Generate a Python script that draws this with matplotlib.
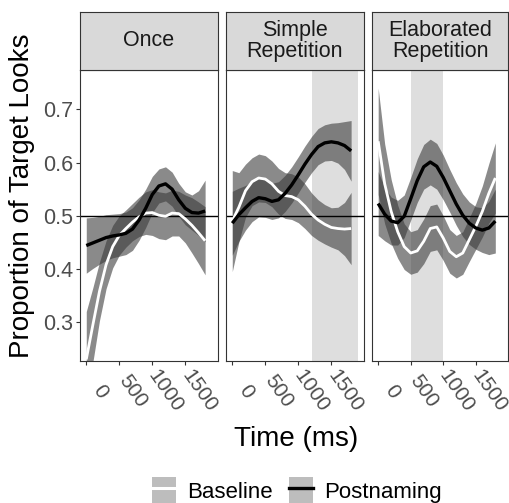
import matplotlib
matplotlib.use("Agg")
import matplotlib.pyplot as plt
import numpy as np
from matplotlib.patches import Patch
from matplotlib.lines import Line2D
from matplotlib.legend_handler import HandlerTuple
from matplotlib.transforms import ScaledTranslation

plt.rcParams['font.family'] = ['Liberation Sans', 'DejaVu Sans']

# ---- data ----
conditions = ["Once", "Simple\nRepetition", "Elaborated\nRepetition"]
times = [0, 100, 200, 300, 400, 500, 600, 700, 800, 900,
         1000, 1100, 1200, 1300, 1400, 1500, 1600, 1700, 1800]

# Once
once_base = [0.230, 0.295, 0.358, 0.408, 0.442, 0.463, 0.476, 0.488, 0.498, 0.505,
             0.506, 0.501, 0.499, 0.505, 0.504, 0.494, 0.482, 0.468, 0.453]
once_base_ci = [0.090, 0.070, 0.055, 0.045, 0.040, 0.037, 0.035, 0.035, 0.037, 0.040,
                0.043, 0.044, 0.044, 0.043, 0.042, 0.045, 0.052, 0.058, 0.064]
once_post = [0.444, 0.449, 0.454, 0.459, 0.462, 0.464, 0.467, 0.475, 0.492, 0.514,
             0.540, 0.556, 0.560, 0.550, 0.530, 0.514, 0.506, 0.505, 0.509]
once_post_ci = [0.052, 0.048, 0.045, 0.043, 0.041, 0.040, 0.040, 0.040, 0.038, 0.036,
                0.034, 0.032, 0.032, 0.032, 0.031, 0.031, 0.033, 0.042, 0.058]

# Simple Repetition
simple_base = [0.490, 0.516, 0.547, 0.564, 0.571, 0.569, 0.560, 0.546, 0.538, 0.536,
               0.530, 0.518, 0.503, 0.492, 0.484, 0.478, 0.476, 0.475, 0.476]
simple_base_ci = [0.095, 0.065, 0.050, 0.045, 0.045, 0.044, 0.043, 0.043, 0.043, 0.043,
                  0.043, 0.042, 0.040, 0.038, 0.037, 0.037, 0.040, 0.050, 0.068]
simple_post = [0.486, 0.502, 0.515, 0.527, 0.534, 0.532, 0.527, 0.530, 0.542, 0.558,
               0.577, 0.597, 0.615, 0.630, 0.637, 0.639, 0.637, 0.632, 0.622]
simple_post_ci = [0.060, 0.050, 0.042, 0.038, 0.036, 0.035, 0.034, 0.034, 0.034, 0.034,
                  0.034, 0.034, 0.034, 0.034, 0.034, 0.035, 0.038, 0.045, 0.057]

# Elaborated Repetition
elab_base = [0.640, 0.560, 0.508, 0.470, 0.442, 0.430, 0.434, 0.452, 0.476, 0.479,
             0.458, 0.433, 0.423, 0.430, 0.455, 0.480, 0.508, 0.542, 0.571]
elab_base_ci = [0.100, 0.075, 0.060, 0.050, 0.043, 0.040, 0.040, 0.042, 0.043, 0.043,
                0.042, 0.041, 0.040, 0.040, 0.041, 0.043, 0.048, 0.056, 0.066]
elab_post = [0.523, 0.503, 0.490, 0.487, 0.499, 0.532, 0.566, 0.592, 0.601, 0.593,
             0.572, 0.547, 0.522, 0.501, 0.486, 0.477, 0.473, 0.477, 0.490]
elab_post_ci = [0.060, 0.050, 0.045, 0.042, 0.040, 0.040, 0.041, 0.042, 0.043, 0.043,
                0.042, 0.040, 0.040, 0.040, 0.040, 0.040, 0.042, 0.050, 0.060]

# shaded windows (ms)
windows = [None, (1200, 1900), (500, 1000)]

x_ticks = [0, 500, 1000, 1500]
x_ticklabels = ["0", "500", "1000", "1500"]
y_ticks = [0.3, 0.4, 0.5, 0.6, 0.7]
y_ticklabels = ["0.3", "0.4", "0.5", "0.6", "0.7"]

series = [
    (once_base, once_base_ci, once_post, once_post_ci),
    (simple_base, simple_base_ci, simple_post, simple_post_ci),
    (elab_base, elab_base_ci, elab_post, elab_post_ci),
]

# ---- figure ----
W, H = 509, 503
fig = plt.figure(figsize=(W / 100, H / 100), dpi=100)

def fx(px):
    return px / W

def fy(py):
    return (H - py) / H

panel_lefts = [80, 226, 372]
panel_w = [138, 138, 136]
p_top, p_bot = 70, 361
s_top = 12

ribbon_col = '#393939'
ribbon_alpha = 0.59
border_col = '#333333'

t = np.array(times)
for i, cond in enumerate(conditions):
    L = panel_lefts[i]
    ax = fig.add_axes([fx(L), fy(p_bot), fx(panel_w[i]), (p_bot - p_top) / H])
    b, bci, p, pci = [np.array(a) for a in series[i]]
    if windows[i] is not None:
        ax.axvspan(windows[i][0], windows[i][1], color='#dedede', lw=0, zorder=0)
    ax.fill_between(t, b - bci, b + bci, color=ribbon_col, alpha=ribbon_alpha, lw=0, zorder=1)
    ax.fill_between(t, p - pci, p + pci, color=ribbon_col, alpha=ribbon_alpha, lw=0, zorder=1)
    ax.axhline(0.5, color='black', lw=1.0, zorder=2)
    ax.plot(t, b, color='white', lw=2.0, zorder=3, solid_capstyle='butt')
    ax.plot(t, p, color='black', lw=2.4, zorder=4, solid_capstyle='butt')
    ax.set_xlim(-95, 1995)
    ax.set_ylim(0.227, 0.774)
    for sp in ax.spines.values():
        sp.set_color(border_col)
        sp.set_linewidth(0.8)
    ax.set_xticks(x_ticks)
    ax.set_xticklabels(x_ticklabels, rotation=-55, rotation_mode='anchor',
                       ha='center', va='center', fontsize=15, color='#4d4d4d')
    ax.tick_params(axis='x', length=3, width=0.8, color='#333333', pad=0)
    if i == 0:
        ax.set_yticks(y_ticks)
        ax.set_yticklabels(y_ticklabels, fontsize=15.5, color='#4d4d4d')
        ax.tick_params(axis='y', length=3, width=0.8, color='#333333', pad=2)
    else:
        ax.set_yticks([])
    off = ScaledTranslation(13.5 / 100, -26 / 100, fig.dpi_scale_trans)
    for lab in ax.get_xticklabels():
        lab.set_transform(lab.get_transform() + off)

    # strip
    sax = fig.add_axes([fx(L), fy(p_top), fx(panel_w[i]), (p_top - s_top) / H])
    sax.set_facecolor('#d9d9d9')
    sax.set_xticks([])
    sax.set_yticks([])
    for sp in sax.spines.values():
        sp.set_color(border_col)
        sp.set_linewidth(0.8)
    sax.text(0.5, 0.5, cond, ha='center', va='center', fontsize=15.5,
             linespacing=0.95, transform=sax.transAxes, color='#1a1a1a')

fig.text(fx(22), fy(196), "Proportion of Target Looks", rotation=90,
         ha='center', va='center', fontsize=20)
fig.text(fx(296), fy(439), "Time (ms)", ha='center', va='center', fontsize=20)

key_col = '#bdbdbd'
handles = [(Patch(facecolor=key_col, edgecolor='none'), Line2D([], [], color='white', lw=2.2)),
           (Patch(facecolor=key_col, edgecolor='none'), Line2D([], [], color='black', lw=2.4))]
fig.legend(handles=handles, labels=["Baseline", "Postnaming"],
           handler_map={tuple: HandlerTuple(ndivide=1, pad=0)},
           loc='center', bbox_to_anchor=(fx(297), fy(491)), ncol=2, frameon=False,
           fontsize=16, handlelength=1.1, handleheight=1.5, columnspacing=0.7,
           handletextpad=0.5, borderpad=0)

fig.savefig("out.png", dpi=100)
